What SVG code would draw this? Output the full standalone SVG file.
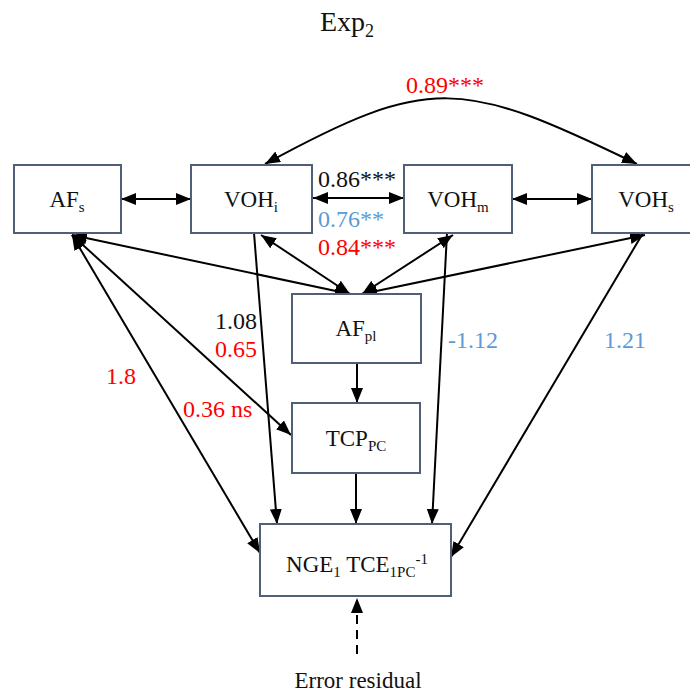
<svg xmlns="http://www.w3.org/2000/svg" width="690" height="693" viewBox="0 0 690 693">
<defs>
<style>
.box{fill:#fff;stroke:#4f5f78;stroke-width:2}
.lbl{font-size:23px;fill:#111;text-anchor:middle}
.sub{font-size:15px}
.num{font-size:24px}
.red{fill:#ff0000}
.blue{fill:#5b9bd5}
.blk{fill:#111}
.ln{fill:none;stroke:#000;stroke-width:2}
.both{marker-start:url(#ah);marker-end:url(#ah)}
.end{marker-end:url(#ah)}
</style>
<marker id="ah" markerUnits="userSpaceOnUse" markerWidth="15" markerHeight="12" refX="15" refY="6" orient="auto-start-reverse">
<path d="M0,0 L15,6 L0,12 z" fill="#000"/>
</marker>
</defs>
<rect width="690" height="693" fill="#fff"/>
<g font-family="'Liberation Serif', 'Times New Roman', serif">
<text x="320" y="31" font-size="28" fill="#111">Exp<tspan font-size="18" dy="6">2</tspan></text>

<g id="connectors">
<path class="ln both" d="M121,199 L191,199"/>
<path class="ln both" d="M313,198 L404,198"/>
<path class="ln both" d="M512,199 L592,199"/>
<path class="ln both" d="M265,164 C430,74 462,79 637,164"/>
<path class="ln both" d="M72,235 L350,294"/>
<path class="ln both" d="M72,235 L291,435"/>
<path class="ln both" d="M72,235 L260,553"/>
<path class="ln both" d="M261,235 L350,294"/>
<path class="ln end" d="M254,233 L277,524"/>
<path class="ln both" d="M453,235 L362,294"/>
<path class="ln end" d="M447,233 L432,524"/>
<path class="ln both" d="M645,235 L362,294"/>
<path class="ln end" d="M643,233 L451,557"/>
<path class="ln end" d="M357,363 L357,403"/>
<path class="ln end" d="M356,473 L356,524"/>
<path class="ln end" d="M357,654 L357,598" stroke-dasharray="9,6"/>
</g>

<g id="AFs"><rect class="box" x="14" y="165" width="107" height="68"/><text class="lbl" x="67" y="207">AF<tspan class="sub" dy="5">s</tspan></text></g>
<g id="VOHi"><rect class="box" x="191" y="165" width="121" height="68"/><text class="lbl" x="251" y="207">VOH<tspan class="sub" dy="5">i</tspan></text></g>
<g id="VOHm"><rect class="box" x="404" y="165" width="108" height="68"/><text class="lbl" x="458" y="207">VOH<tspan class="sub" dy="5">m</tspan></text></g>
<g id="VOHs"><rect class="box" x="592" y="165" width="108" height="68"/><text class="lbl" x="646" y="207">VOH<tspan class="sub" dy="5">s</tspan></text></g>
<g id="AFpl"><rect class="box" x="292" y="294" width="129" height="69"/><text class="lbl" x="356" y="336">AF<tspan class="sub" dy="5">pl</tspan></text></g>
<g id="TCPpc"><rect class="box" x="292" y="403" width="128" height="70"/><text class="lbl" x="356" y="446">TCP<tspan class="sub" dy="5">PC</tspan></text></g>
<g id="NGE"><rect class="box" x="260" y="524" width="191" height="72"/><text class="lbl" x="357" y="572" font-size="24">NGE<tspan class="sub" dy="5">1</tspan><tspan dy="-5"> TCE</tspan><tspan class="sub" dy="5">1PC</tspan><tspan class="sub" dy="-13">-1</tspan></text></g>
<g id="error"><text class="lbl" x="358" y="688">Error residual</text></g>

<g id="labels">
<text class="num red" x="445" y="93" text-anchor="middle">0.89***</text>
<text class="num blk" x="318" y="187">0.86***</text>
<text class="num blue" x="318" y="227">0.76**</text>
<text class="num red" x="318" y="255">0.84***</text>
<text class="num blk" x="257" y="329" text-anchor="end">1.08</text>
<text class="num red" x="257" y="357" text-anchor="end">0.65</text>
<text class="num red" x="106" y="384">1.8</text>
<text class="num red" x="183" y="417">0.36 ns</text>
<text class="num blue" x="448" y="348">-1.12</text>
<text class="num blue" x="604" y="348">1.21</text>
</g>
</g>
</svg>
